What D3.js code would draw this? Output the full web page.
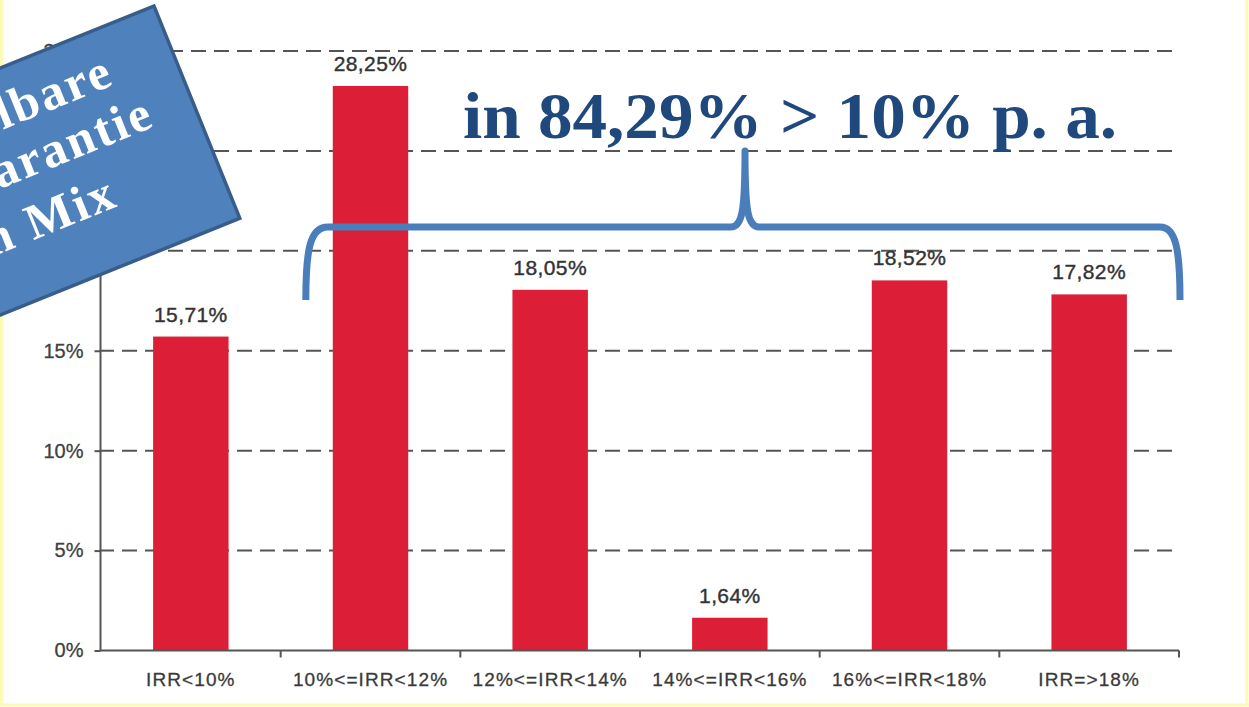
<!DOCTYPE html>
<html>
<head>
<meta charset="utf-8">
<script src="https://cdn.jsdelivr.net/npm/d3@7/dist/d3.min.js"></script>
<style>
  html, body { margin: 0; padding: 0; background: #ffffff; }
  svg { display: block; }
</style>
</head>
<body>
<svg id="chart" width="1249" height="707"></svg>
<script>
// ---- data ----
const categories = ["IRR<10%", "10%<=IRR<12%", "12%<=IRR<14%", "14%<=IRR<16%", "16%<=IRR<18%", "IRR=>18%"];
const values = [15.71, 28.25, 18.05, 1.64, 18.52, 17.82];
const valueLabels = ["15,71%", "28,25%", "18,05%", "1,64%", "18,52%", "17,82%"];
const yTicks = [0, 5, 10, 15, 20, 25, 30];
const titleText = "in 84,29% > 10% p. a.";
const boxLines = ["lbare", "arantie", "n Mix"];

const svg = d3.select("#chart");

const x = d3.scaleBand().domain(categories).range([101, 1179]).paddingInner(0.58).paddingOuter(0.29);
const y = d3.scaleLinear().domain([0, 30]).range([650.5, 51]);

// pale yellow frame
const frame = svg.append("g").attr("stroke", "#fbfbb4").attr("stroke-width", 3).attr("fill", "none");
frame.append("line").attr("x1", 1.5).attr("x2", 1.5).attr("y1", 0).attr("y2", 705);
frame.append("line").attr("x1", 1247).attr("x2", 1247).attr("y1", 0).attr("y2", 705);
frame.append("line").attr("x1", 0).attr("x2", 1249).attr("y1", 705).attr("y2", 705);

// gridlines
svg.append("g").selectAll("line").data(yTicks.filter(d => d > 0)).join("line")
  .attr("x1", 101).attr("x2", 1172)
  .attr("y1", d => y(d)).attr("y2", d => y(d))
  .attr("stroke", "#555").attr("stroke-width", 2)
  .attr("stroke-dasharray", "15,8").attr("stroke-dashoffset", 2);

// bars
svg.append("g").selectAll("rect").data(values).join("rect")
  .attr("x", (d, i) => x(categories[i]))
  .attr("width", x.bandwidth())
  .attr("y", d => y(d))
  .attr("height", d => y(0) - y(d))
  .attr("fill", "#dc1e37");

// value labels
svg.append("g").selectAll("text").data(values).join("text")
  .attr("x", (d, i) => x(categories[i]) + x.bandwidth() / 2)
  .attr("y", d => y(d) - 15)
  .attr("text-anchor", "middle")
  .attr("font-family", "Liberation Sans, Arial, sans-serif")
  .attr("font-size", 21).attr("letter-spacing", 0.4)
  .attr("fill", "#333").attr("stroke", "#333").attr("stroke-width", 0.4)
  .text((d, i) => valueLabels[i]);

// y axis
const yAxis = svg.append("g").attr("transform", "translate(100.5,0)")
  .call(d3.axisLeft(y).tickValues(yTicks).tickFormat(d => d + "%").tickSize(6).tickPadding(11));
yAxis.select(".domain").attr("stroke", "#555").attr("stroke-width", 2).attr("d", `M0,${y(30)}V${y(0)}`);
yAxis.selectAll(".tick line").attr("stroke", "#555").attr("stroke-width", 2);
yAxis.selectAll(".tick text").attr("font-family", "Liberation Sans, Arial, sans-serif")
  .attr("font-size", 20).attr("fill", "#404040").attr("stroke", "#404040").attr("stroke-width", 0.3);

// x axis
const xAxis = svg.append("g").attr("transform", `translate(0,${y(0)})`)
  .call(d3.axisBottom(x).tickSize(0).tickPadding(22));
xAxis.select(".domain").attr("stroke", "#555").attr("stroke-width", 2).attr("d", `M100,0H1179`);
xAxis.selectAll(".tick text").attr("font-family", "Liberation Sans, Arial, sans-serif")
  .attr("font-size", 19).attr("letter-spacing", 1.1)
  .attr("fill", "#3a3a3a").attr("stroke", "#3a3a3a").attr("stroke-width", 0.3);
// boundary ticks
const bounds = d3.range(1, categories.length + 1).map(i => x.range()[0] + i * x.step());
xAxis.append("g").selectAll("line").data(bounds).join("line")
  .attr("x1", d => d).attr("x2", d => d).attr("y1", 0).attr("y2", 7)
  .attr("stroke", "#555").attr("stroke-width", 2);

// curly bracket
const bl = x.range()[0] + x.step() * 1.14;
const br = x.range()[1] + 1;
const by = 227, bTop = 151, bBottom = 300, mid = 745;
const path = d3.path();
path.moveTo(bl, bBottom);
path.bezierCurveTo(bl, 250, bl + 4, by, bl + 22, by);
path.lineTo(mid - 14, by);
path.bezierCurveTo(mid - 3, by, mid, by - 15, mid, bTop);
path.bezierCurveTo(mid, by - 15, mid + 3, by, mid + 14, by);
path.lineTo(br - 20, by);
path.bezierCurveTo(br - 4, by, br, 250, br, bBottom);
svg.append("path").attr("d", path.toString())
  .attr("fill", "none").attr("stroke", "#4a7ebb").attr("stroke-width", 7)
  .attr("stroke-linejoin", "round");

// title
svg.append("text")
  .attr("x", 463).attr("y", 138)
  .attr("font-family", "Liberation Serif, 'Times New Roman', serif")
  .attr("font-weight", "bold").attr("font-size", 66)
  .attr("fill", "#1f497d")
  .attr("textLength", 654).attr("lengthAdjust", "spacingAndGlyphs")
  .text(titleText);

// rotated box
const box = svg.append("g").attr("transform", "translate(154,6) rotate(-22)");
box.append("rect").attr("x", -420).attr("y", 0).attr("width", 420).attr("height", 229)
  .attr("fill", "#4f81bd").attr("stroke", "#385d8a").attr("stroke-width", 3.5);
const lineEnds = [[-64, 58], [-42, 112], [-106, 172]];
box.selectAll("text").data(boxLines).join("text")
  .attr("x", (d, i) => lineEnds[i][0]).attr("y", (d, i) => lineEnds[i][1])
  .attr("text-anchor", "end")
  .attr("font-family", "Liberation Serif, 'Times New Roman', serif")
  .attr("font-weight", "bold").attr("font-size", 50).attr("letter-spacing", 2.5)
  .attr("fill", "#ffffff")
  .text(d => d);
</script>
</body>
</html>
